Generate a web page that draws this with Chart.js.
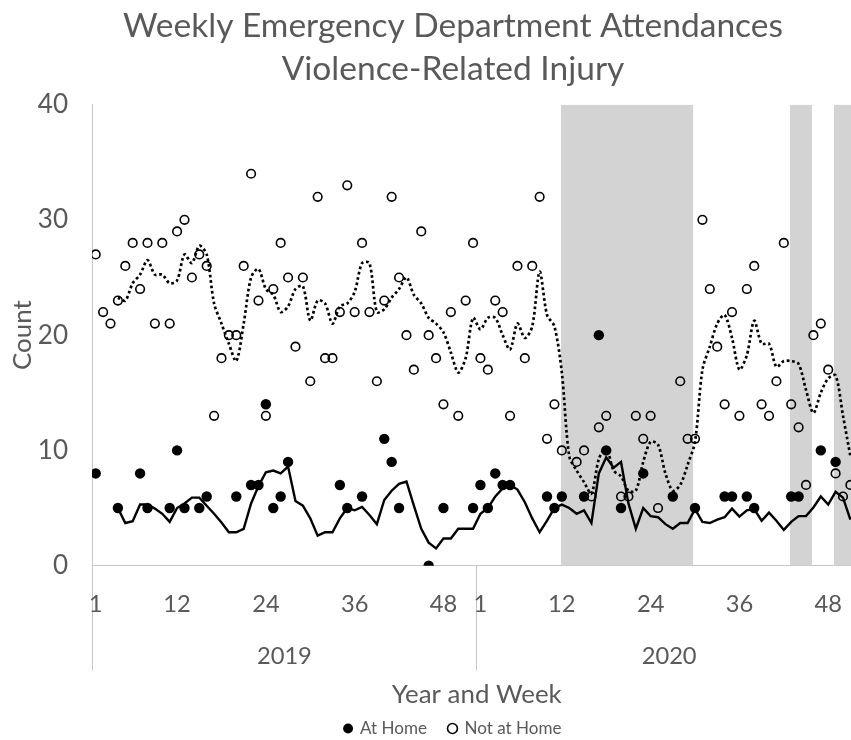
<!DOCTYPE html>
<html>
<head>
<meta charset="utf-8">
<script src="https://cdn.jsdelivr.net/npm/chart.js@4.4.1/dist/chart.umd.min.js"></script>
<style>
  html, body { margin: 0; padding: 0; overflow: hidden; background: #ffffff; }
  #wrap { width: 906px; height: 747px; }
</style>
</head>
<body>
<div id="wrap"><canvas id="chart" width="906" height="747"></canvas></div>
<script>
// ---------------- data ----------------
const years = ['2019', '2020'];
const weeksInYear = 52;
const weekTickLabels = [1, 12, 24, 36, 48];
const yTickValues = [0, 10, 20, 30, 40];

// weekly counts, null = not shown (suppressed)
const atHome2019 = [8, null, null, 5, null, null, 8, 5, null, null, 5, 10, 5, null, 5, 6, null, null, null, 6,
  null, 7, 7, 14, 5, 6, 9, null, null, null, null, null, null, 7, 5, null, 6, null, null, 11,
  9, 5, null, null, null, 0, null, 5, null, null, null, 5];
const atHome2020 = [7, 5, 8, 7, 7, null, null, null, null, 6, 5, 6, null, null, 6, null, 20, 10, null, 5,
  null, null, 8, null, null, null, 6, null, null, 5, null, null, null, 6, 6, null, 6, 5, null, null,
  null, null, 6, 6, null, null, 10, null, 9, null, null];

const notAtHome2019 = [27, 22, 21, 23, 26, 28, 24, 28, 21, 28, 21, 29, 30, 25, 27, 26, 13, 18, 20, 20,
  26, 34, 23, 13, 24, 28, 25, 19, 25, 16, 32, 18, 18, 22, 33, 22, 28, 22, 16, 23,
  32, 25, 20, 17, 29, 20, 18, 14, 22, 13, 23, 28];
const notAtHome2020 = [18, 17, 23, 22, 13, 26, 18, 26, 32, 11, 14, 10, null, 9, 10, 6, 12, 13, null, 6,
  6, 13, 11, 13, 5, null, null, 16, 11, 11, 30, 24, 19, 14, 22, 13, 24, 26, 14, 13,
  16, 28, 14, 12, 7, 20, 21, 17, 8, 6, 7];

// moving-average lines as drawn in the picture
const atHomeAvg2019 = [null, null, null, 5.0, 3.7, 3.85, 5.3, 5.3, 4.95, 4.5, 3.8, 5.0, 5.4, 5.9, 5.9, 5.2, 4.5, 3.75, 2.9, 2.9,
  3.2, 5.4, 6.9, 8.1, 8.25, 8.0, 8.6, 5.6, 5.2, 4.1, 2.6, 2.9, 2.9, 4.1, 5.0, 4.8, 5.1, 4.4, 3.6, 5.7,
  6.5, 7.1, 7.3, 5.2, 3.2, 2.0, 1.5, 2.35, 2.35, 3.2, 3.2, 3.2];
const atHomeAvg2020 = [4.5, 5.0, 6.0, 6.7, 7.0, 6.6, 5.5, 4.1, 2.9, 3.9, 5.0, 5.3, 5.0, 4.5, 4.8, 3.7, 8.0, 9.4, 8.5, 9.0,
  5.4, 3.2, 5.0, 4.3, 4.2, 3.6, 3.2, 3.7, 3.7, 4.9, 3.8, 3.7, 4.0, 4.2, 4.95, 4.25, 4.8, 4.9, 3.9, 4.6,
  3.9, 3.1, 3.8, 4.3, 4.3, 5.05, 6.0, 5.3, 6.4, 5.9, 4.0];

const notAtHomeAvg2019 = [null, null, null, 23.25, 23, 24.5, 25.25, 26.5, 25.25, 25.25, 24.5, 24.75, 27, 26.25, 27.75, 27, 22.75, 21, 19.25, 17.75,
  21, 25, 25.75, 24, 23.5, 22, 22.5, 24, 24.25, 21.25, 23, 22.75, 21, 22.5, 22.75, 23.75, 26.25, 26.25, 22, 22.25,
  23.25, 24, 25, 23.5, 22.75, 21.5, 21, 20.25, 18.5, 16.75, 18, 21.5];
const notAtHomeAvg2020 = [20.5, 21.5, 21.5, 20, 18.75, 21, 19.75, 20.75, 25.5, 21.75, 20.75, 16.75, 9.5, 8.25, 7.25, 6.25, 9.25, 10.25, 8.25, 7.75,
  6.5, 6.5, 9, 10.75, 10.5, 8, 6.5, 7, 8.75, 10.75, 17, 19, 21, 21.75, 19.75, 17, 18.25, 21.25, 19.25, 19.25,
  17.25, 17.75, 17.75, 17.5, 15.25, 13.25, 15, 16.25, 16.5, 13, 9.5];

// shaded periods in 2020 (week numbers)
const shadedStart2020 = [11.85, 42.84, 48.78];
const shadedEnd2020 = [29.77, 45.81, 52.5];

// ---------------- helpers ----------------
const GRAY = '#595959';
const AXIS = '#c6c6c6';
const BAND = '#d3d3d3';
const FAMILY = 'Lato, "Open Sans", sans-serif';

function fitSize(text, target) {
  const c = document.createElement('canvas').getContext('2d');
  c.font = '100px ' + FAMILY;
  return 100 * target / c.measureText(text).width;
}
const titleSize = fitSize('Weekly Emergency Department Attendances', 660);
const tickSize = fitSize('2019', 55);
const yTickSize = tickSize * 1.1;
const axisTitleSize = fitSize('Year and Week', 170);
const legendSize = fitSize('Not at Home', 97);

const idx = (yearPos, week) => yearPos * weeksInYear + week;
function toPoints(a, b) {
  return a.map((v, k) => ({ x: idx(0, k + 1), y: v }))
    .concat(b.map((v, k) => ({ x: idx(1, k + 1), y: v })));
}

const xMin = 0.5, xMax = years.length * weeksInYear + 0.5;
const yMax = yTickValues[yTickValues.length - 1];

// x ticks: week labels, year labels (third line), year dividers
const xTickMap = new Map();
years.forEach((yr, p) => {
  weekTickLabels.forEach(w => xTickMap.set(idx(p, w), String(w)));
  xTickMap.set(idx(p, 0) + (weeksInYear + 1) / 2, ['', '', yr]);
});
const dividers = [];
for (let p = 0; p <= years.length; p++) { dividers.push(idx(p, 0) + 0.5); xTickMap.set(idx(p, 0) + 0.5, ''); }
const xTickValues = Array.from(xTickMap.keys()).sort((a, b) => a - b);

const bandSets = shadedStart2020.map((s, k) => ({
  type: 'line',
  label: 'shade' + k,
  data: [{ x: idx(1, 0) + s, y: yMax }, { x: idx(1, 0) + shadedEnd2020[k], y: yMax }],
  borderWidth: 0,
  pointRadius: 0,
  backgroundColor: BAND,
  fill: 'origin',
  order: 3
}));

const datasets = [
  {
    type: 'scatter', label: 'At Home',
    data: toPoints(atHome2019, atHome2020),
    pointRadius: 5.2, pointHoverRadius: 5.2,
    backgroundColor: '#000000', borderColor: '#000000', borderWidth: 0,
    pointStyle: 'circle', order: 0
  },
  {
    type: 'scatter', label: 'Not at Home',
    data: toPoints(notAtHome2019, notAtHome2020),
    pointRadius: 4.3, pointHoverRadius: 4.3,
    backgroundColor: 'rgba(0,0,0,0)', borderColor: '#000000', borderWidth: 1.6,
    pointStyle: 'circle', order: 0
  },
  {
    type: 'line', label: 'At Home average',
    data: toPoints(atHomeAvg2019, atHomeAvg2020),
    borderColor: '#000000', borderWidth: 2.4, pointRadius: 0, tension: 0, fill: false, order: 1
  },
  {
    type: 'line', label: 'Not at Home average',
    data: toPoints(notAtHomeAvg2019, notAtHomeAvg2020),
    borderColor: '#000000', borderWidth: 2.7, borderDash: [2.7, 2.7], borderCapStyle: 'butt',
    pointRadius: 0, tension: 0.3, fill: false, order: 2
  }
].concat(bandSets);

// vertical layout: legend box = font + padding + 10
const LEGEND_PAD = 22;
const legendHeight = 16 + LEGEND_PAD + 10;
const canvasHeight = 747;
const plotBottom = 566.7;
const xScaleHeight = canvasHeight - legendHeight - plotBottom;   // room for week + year rows and axis title
const xTitleCenter = 696;
const xTitlePadBottom = (plotBottom + xScaleHeight) - xTitleCenter - 14;

new Chart(document.getElementById('chart'), {
  data: { datasets },
  options: {
    responsive: false,
    animation: false,
    devicePixelRatio: 1,
    layout: { padding: 0 },
    plugins: {
      tooltip: { enabled: false },
      title: {
        display: true,
        text: ['Weekly Emergency Department Attendances', 'Violence-Related Injury'],
        color: GRAY,
        font: { family: FAMILY, size: titleSize, weight: 'normal', lineHeight: '43px' },
        padding: { top: 4.5, bottom: 14.1 }
      },
      legend: {
        position: 'bottom',
        labels: {
          filter: item => item.datasetIndex < 2,
          usePointStyle: true,
          boxWidth: 7, boxHeight: 7,
          color: GRAY,
          font: { family: FAMILY, size: legendSize },
          padding: LEGEND_PAD
        }
      }
    },
    scales: {
      x: {
        type: 'linear', position: 'bottom', min: xMin, max: xMax,
        afterBuildTicks: s => { s.ticks = xTickValues.map(v => ({ value: v })); },
        ticks: {
          autoSkip: false, maxRotation: 0, minRotation: 0, padding: -79.7,
          color: GRAY, font: { family: FAMILY, size: tickSize, lineHeight: '26px' },
          callback: v => (xTickMap.has(v) ? xTickMap.get(v) : '')
        },
        grid: {
          display: true, drawOnChartArea: false, drawTicks: true, tickLength: 105, tickWidth: 1,
          tickColor: c => (c.tick && dividers.includes(c.tick.value) ? AXIS : 'rgba(0,0,0,0)')
        },
        border: { display: true, color: AXIS, width: 1 },
        title: {
          display: true, text: 'Year and Week', color: GRAY,
          font: { family: FAMILY, size: axisTitleSize, lineHeight: '28px' },
          padding: { top: 0, bottom: xTitlePadBottom }
        },
        afterFit: s => { s.height = xScaleHeight; }
      },
      y: {
        type: 'linear', position: 'left', min: 0, max: yMax,
        afterBuildTicks: s => { s.ticks = yTickValues.map(v => ({ value: v })); },
        ticks: { color: GRAY, font: { family: FAMILY, size: yTickSize }, padding: 16 },
        grid: { display: false },
        border: { display: true, color: AXIS, width: 1 },
        title: {
          display: true, text: 'Count', color: GRAY,
          font: { family: FAMILY, size: axisTitleSize, lineHeight: '26px' },
          padding: { top: 10, bottom: 0 }
        },
        afterFit: s => { s.width = 92; }
      },
      yPad: {
        type: 'linear', position: 'right', display: true,
        grid: { display: false }, border: { display: false }, ticks: { display: false },
        afterFit: s => { s.width = 44.5; }
      }
    }
  }
});
</script>
</body>
</html>
